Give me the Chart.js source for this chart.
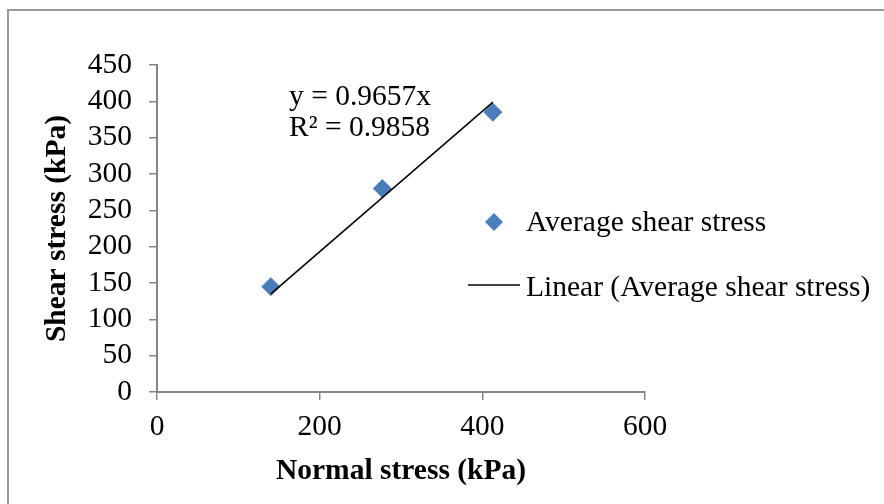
<!DOCTYPE html>
<html>
<head>
<meta charset="utf-8">
<script src="https://cdn.jsdelivr.net/npm/chart.js@4"></script>
<style>
  html, body { margin: 0; padding: 0; background: #fff; }
  #wrap { width: 884px; height: 504px; }
</style>
</head>
<body>
<div id="wrap"><canvas id="shearChart" width="884" height="504"></canvas></div>
<script>
const shearCtx = document.getElementById('shearChart');

// measured points
const normalStress = [140, 277, 413];
const shearStress = [145, 280, 385];

// trendline (through origin), end points as drawn
const trendX = [140, 413];
const trendY = [135, 399];

const equationLines = ['y = 0.9657x', 'R\u00b2 = 0.9858'];
const seriesLabel = 'Average shear stress';
const trendLabel = 'Linear (Average shear stress)';

const FONT = "'Liberation Serif', 'Times New Roman', serif";
const FONT_SIZE = 29.5;
const AXIS_GREY = '#868686';
const MARKER_BLUE = '#4a7ebb';

// frame, equation and legend drawn on top
const extrasPlugin = {
  id: 'extras',
  afterDraw(chart) {
    const ctx = chart.ctx;
    ctx.save();

    // outer frame
    ctx.strokeStyle = '#999';
    ctx.lineWidth = 2;
    ctx.strokeRect(8, 10, 900, 600);

    ctx.fillStyle = '#000';
    ctx.font = FONT_SIZE + 'px ' + FONT;
    ctx.textBaseline = 'middle';
    ctx.textAlign = 'left';

    // equation
    ctx.fillText(equationLines[0], 289, 97);
    ctx.fillText(equationLines[1], 289, 128);

    // legend: marker item
    const ds0 = chart.data.datasets[0];
    ctx.fillStyle = ds0.backgroundColor;
    ctx.beginPath();
    ctx.moveTo(494, 213);
    ctx.lineTo(503, 222);
    ctx.lineTo(494, 231);
    ctx.lineTo(485, 222);
    ctx.closePath();
    ctx.fill();
    ctx.fillStyle = '#000';
    ctx.fillText(seriesLabel, 526, 223);

    // legend: trendline item
    const ds1 = chart.data.datasets[1];
    ctx.strokeStyle = ds1.borderColor;
    ctx.lineWidth = ds1.borderWidth;
    ctx.beginPath();
    ctx.moveTo(468, 285);
    ctx.lineTo(520, 285);
    ctx.stroke();
    ctx.fillText(trendLabel, 526, 288);

    ctx.restore();
  }
};

new Chart(shearCtx, {
  type: 'scatter',
  data: {
    datasets: [
      {
        label: seriesLabel,
        data: normalStress.map((x, i) => ({ x: x, y: shearStress[i] })),
        backgroundColor: MARKER_BLUE,
        borderColor: MARKER_BLUE,
        pointStyle: 'rectRot',
        pointRadius: 9,
        pointHoverRadius: 9,
        order: 2
      },
      {
        label: trendLabel,
        type: 'line',
        data: trendX.map((x, i) => ({ x: x, y: trendY[i] })),
        borderColor: '#000',
        borderWidth: 1.5,
        pointRadius: 0,
        fill: false,
        showLine: true,
        order: 1
      }
    ]
  },
  options: {
    responsive: false,
    animation: false,
    layout: { padding: { left: 0, right: 239, top: 65, bottom: 0 } },
    plugins: {
      legend: { display: false },
      tooltip: { enabled: false }
    },
    scales: {
      x: {
        type: 'linear',
        min: 0,
        max: 600,
        afterFit(scale) { scale.height = 112; },
        ticks: {
          stepSize: 200,
          autoSkip: false,
          color: '#000',
          padding: 10,
          font: { family: FONT, size: FONT_SIZE }
        },
        grid: {
          drawOnChartArea: false,
          drawTicks: true,
          tickLength: 8,
          color: AXIS_GREY,
          lineWidth: 1.5
        },
        border: { color: AXIS_GREY, width: 2 },
        title: {
          display: true,
          text: 'Normal stress (kPa)',
          color: '#000',
          padding: { top: 0, bottom: 15 },
          font: { family: FONT, size: FONT_SIZE, weight: 'bold' }
        }
      },
      y: {
        type: 'linear',
        min: 0,
        max: 450,
        afterFit(scale) { scale.width = 157; },
        ticks: {
          stepSize: 50,
          autoSkip: false,
          color: '#000',
          padding: 17,
          font: { family: FONT, size: FONT_SIZE }
        },
        grid: {
          drawOnChartArea: false,
          drawTicks: true,
          tickLength: 8,
          color: AXIS_GREY,
          lineWidth: 1.5
        },
        border: { color: AXIS_GREY, width: 2 },
        title: {
          display: true,
          text: 'Shear stress (kPa)',
          color: '#000',
          padding: { top: 40, bottom: 0 },
          font: { family: FONT, size: FONT_SIZE, weight: 'bold' }
        }
      }
    }
  },
  plugins: [extrasPlugin]
});
</script>
</body>
</html>
